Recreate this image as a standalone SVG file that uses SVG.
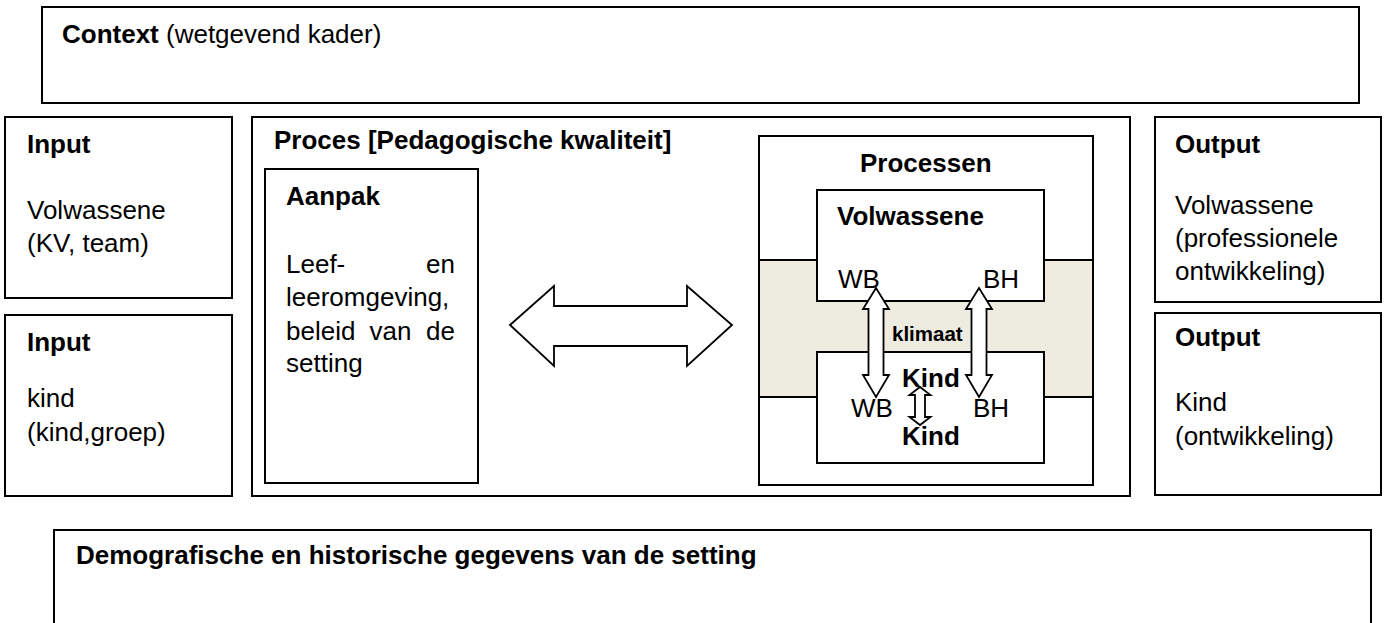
<svg xmlns="http://www.w3.org/2000/svg" width="1386" height="623" viewBox="0 0 1386 623">
<style>
.box{fill:#fff;stroke:#000;stroke-width:2}
.band{fill:#EEECE1;stroke:#000;stroke-width:2}
.arr{fill:#fff;stroke:#000;stroke-width:1.8;stroke-linejoin:miter}
text{font-family:"Liberation Sans",Arial,sans-serif;font-size:26px;fill:#000}
.b{font-weight:bold}
.s{font-size:20.5px}
</style>
<rect width="1386" height="623" fill="#fff"/>
<g id="context">
<rect class="box" x="42" y="7" width="1317" height="96"/>
<text x="62" y="43"><tspan class="b">Context</tspan> (wetgevend kader)</text>
</g>
<g id="input1">
<rect class="box" x="5" y="117" width="227" height="181"/>
<text class="b" x="27" y="153">Input</text>
<text x="27" y="219">Volwassene</text>
<text x="27" y="252">(KV, team)</text>
</g>
<g id="input2">
<rect class="box" x="5" y="315" width="227" height="181"/>
<text class="b" x="27" y="351">Input</text>
<text x="27" y="407">kind</text>
<text x="27" y="441">(kind,groep)</text>
</g>
<g id="proces">
<rect class="box" x="252" y="117" width="878" height="379"/>
<text class="b" x="274" y="149">Proces [Pedagogische kwaliteit]</text>
</g>
<g id="aanpak">
<rect class="box" x="265" y="169" width="213" height="314"/>
<text class="b" x="286" y="205">Aanpak</text>
<text x="286" y="273">Leef-</text>
<text x="455" y="273" text-anchor="end">en</text>
<text x="286" y="306">leeromgeving,</text>
<text x="286" y="340">beleid</text>
<text x="369.5" y="340">van</text>
<text x="455" y="340" text-anchor="end">de</text>
<text x="286" y="372">setting</text>
</g>
<g id="processen">
<rect class="box" x="759" y="136" width="334" height="349"/>
<rect class="band" x="759" y="260" width="334" height="137"/>
<text class="b" x="860" y="172">Processen</text>
</g>
<g id="volwassene">
<rect class="box" x="817" y="190" width="227" height="111"/>
<text class="b" x="837" y="225">Volwassene</text>
<text x="838" y="288">WB</text>
<text x="983" y="288">BH</text>
</g>
<text class="b s" x="892" y="341">klimaat</text>
<g id="kind">
<rect class="box" x="817" y="352" width="227" height="111"/>
<text class="b" x="902" y="387">Kind</text>
<text x="851" y="417">WB</text>
<text x="973" y="417">BH</text>
<text class="b" x="902" y="445">Kind</text>
</g>
<g id="output1">
<rect class="box" x="1155" y="117" width="226" height="185"/>
<text class="b" x="1175" y="153">Output</text>
<text x="1175" y="214">Volwassene</text>
<text x="1175" y="247">(professionele</text>
<text x="1175" y="280">ontwikkeling)</text>
</g>
<g id="output2">
<rect class="box" x="1155" y="313" width="226" height="182"/>
<text class="b" x="1175" y="346">Output</text>
<text x="1175" y="411">Kind</text>
<text x="1175" y="445">(ontwikkeling)</text>
</g>
<g id="demografie">
<rect class="box" x="54" y="530" width="1317" height="110"/>
<text class="b" x="76" y="564">Demografische en historische gegevens van de setting</text>
</g>
<g id="connectors">
<polygon class="arr" points="510,325 554,286 554,306 687,306 687,286 732,325 687,366 687,346 554,346 554,366"/>
<polygon class="arr" points="876,288 889,309 883.5,309 883.5,375 889,375 876,397 863,375 868.5,375 868.5,309 863,309"/>
<polygon class="arr" points="979,288 992,309 986.5,309 986.5,375 992,375 979,397 966,375 971.5,375 971.5,309 966,309"/>
<polygon class="arr" points="920,387 930.5,395 925,395 925,417 930.5,417 920,425 909.5,417 915,417 915,395 909.5,395"/>
</g>
</svg>
